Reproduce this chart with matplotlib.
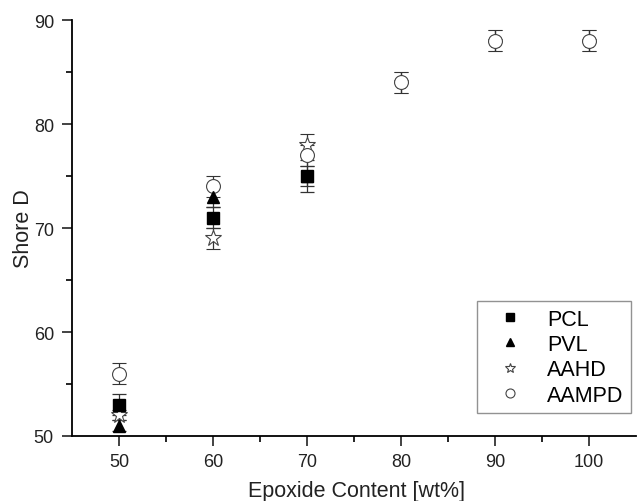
import numpy as np
import matplotlib.pyplot as plt

plt.rcParams['font.family'] = ['Liberation Sans', 'DejaVu Sans']

# epoxide content [wt%]
epoxide = [50, 60, 70, 80, 90, 100]

# Shore D hardness and standard deviation per curing agent
pcl = [53, 71, 75]
pcl_err = [1, 1, 1]
pvl = [51, 73, 75]
pvl_err = [0.5, 1, 1.5]
aahd = [52, 69, 78]
aahd_err = [0.5, 1, 1]
aampd = [56, 74, 77, 84, 88, 88]
aampd_err = [1, 1, 1, 1, 1, 1]

fig = plt.figure(figsize=(6.37, 5.02), dpi=100)
ax = fig.add_axes([0.113, 0.1295, 0.885, 0.8285])

ebkw = dict(ls='none', ecolor='#333333', elinewidth=0.9, capsize=5, capthick=0.9)

ax.errorbar(epoxide[:3], aahd, yerr=aahd_err, marker='*', ms=12, mfc='white',
            mec='#444444', mew=0.8, label='AAHD', **ebkw)
ax.errorbar(epoxide, aampd, yerr=aampd_err, marker='o', ms=10, mfc='white',
            mec='#444444', mew=0.8, label='AAMPD', **ebkw)
ax.errorbar(epoxide[:3], pvl, yerr=pvl_err, marker='^', ms=9, color='black',
            label='PVL', **ebkw)
ax.errorbar(epoxide[:3], pcl, yerr=pcl_err, marker='s', ms=8, color='black',
            label='PCL', **ebkw)
# AAHD points hidden behind the circles at 80-100
ax.errorbar(epoxide[3:], aampd[3:], yerr=aampd_err[3:], marker='*', ms=10.5,
            mfc='none', mec='#444444', mew=0.6, zorder=1, **ebkw)

ax.set_xlim(45, 105)
ax.set_ylim(50, 90)
ax.set_xticks([50, 60, 70, 80, 90, 100])
ax.set_xticks([55, 65, 75, 85, 95], minor=True)
ax.set_yticks([50, 60, 70, 80, 90])
ax.set_yticks([55, 65, 75, 85], minor=True)
ax.tick_params(which='major', direction='out', length=7, width=1.2, labelsize=13,
               colors='#222222')
ax.tick_params(which='minor', direction='out', length=4, width=1.2)
ax.tick_params(axis='x', which='major', pad=5)
ax.tick_params(axis='y', which='major', pad=6)
for s in ['top', 'right']:
    ax.spines[s].set_visible(False)
for s in ['left', 'bottom']:
    ax.spines[s].set_linewidth(1.3)

ax.set_xlabel('Epoxide Content [wt%]', fontsize=15.5, color='#222222')
ax.set_ylabel('Shore D', fontsize=15.5, color='#222222')
ax.xaxis.set_label_coords(0.504, -0.105)
ax.yaxis.set_label_coords(-0.068, 0.5)

h, l = ax.get_legend_handles_labels()
order = [l.index(n) for n in ['PCL', 'PVL', 'AAHD', 'AAMPD']]
leg = ax.legend([h[i][0] for i in order], [l[i] for i in order],
                loc='lower right', bbox_to_anchor=(0.992, 0.055), fontsize=15.5,
                frameon=True, fancybox=False, markerscale=0.65, handlelength=2.3,
                borderpad=0.35, labelspacing=0.2, handletextpad=0.6,
                borderaxespad=0.0)
leg.get_frame().set_edgecolor('#777777')
leg.get_frame().set_linewidth(1.0)

fig.savefig('out.png', dpi=100)
